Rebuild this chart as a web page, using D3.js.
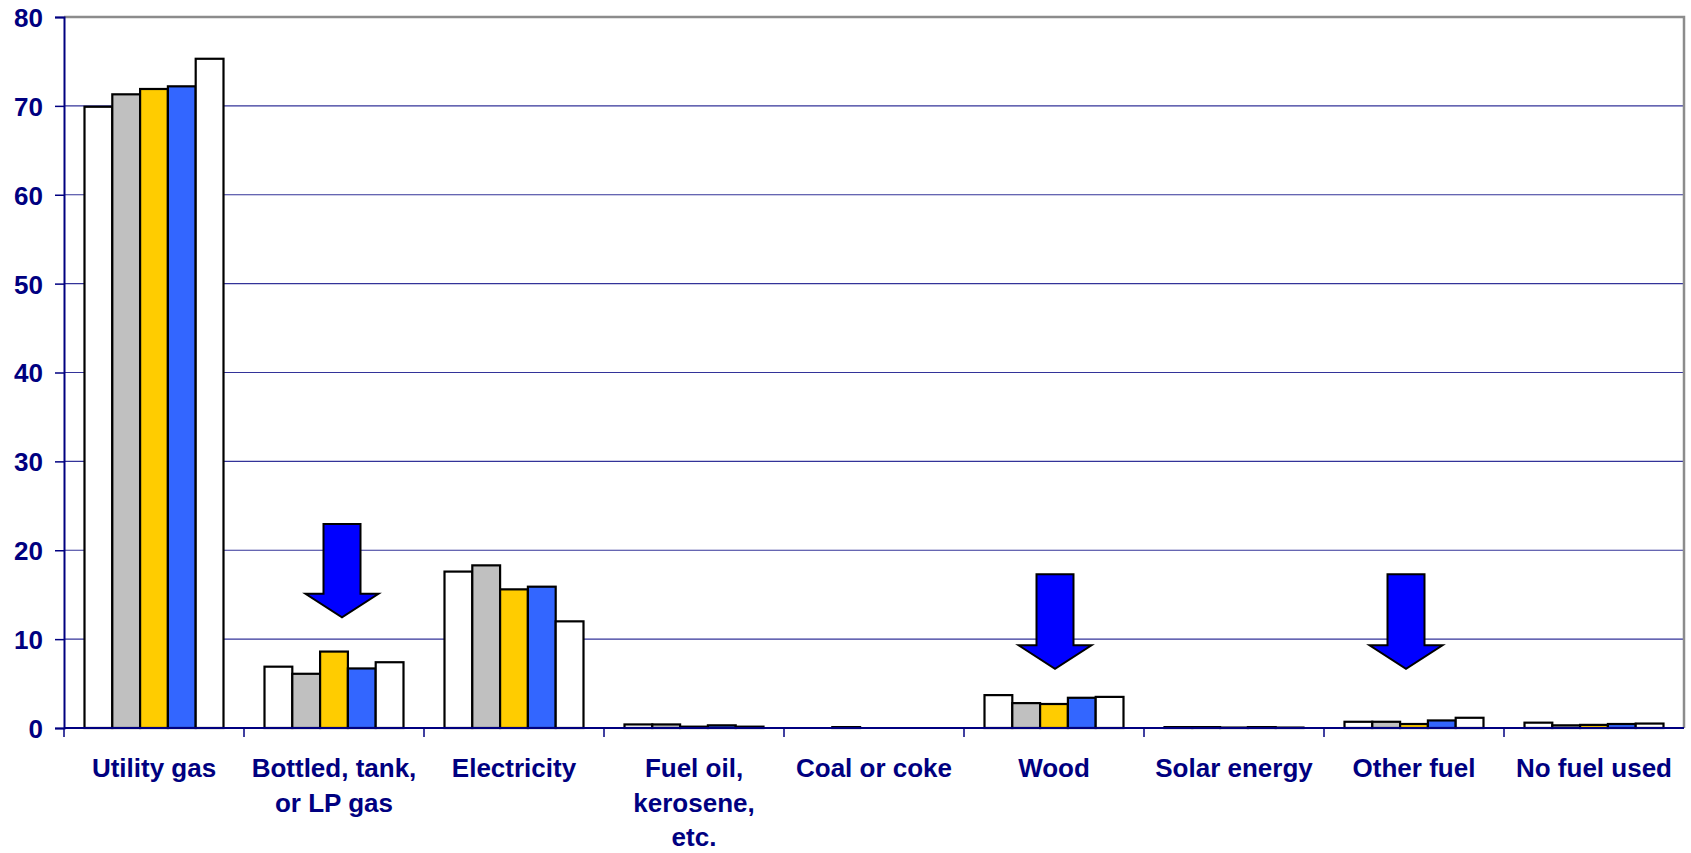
<!DOCTYPE html>
<html>
<head>
<meta charset="utf-8">
<script src="https://cdn.jsdelivr.net/npm/d3@7"></script>
<style>
  body { margin: 0; background: #fff; }
  text { font-family: "Liberation Sans", Arial, sans-serif; font-weight: bold; fill: #000080; }
</style>
</head>
<body>
<div id="chart"></div>
<script>
// data
const categories = ["Utility gas", "Bottled, tank,\nor LP gas", "Electricity", "Fuel oil,\nkerosene,\netc.",
  "Coal or coke", "Wood", "Solar energy", "Other fuel", "No fuel used"];
const seriesNames = ["s1", "s2", "s3", "s4", "s5"];
const series1 = [69.9, 6.9, 17.6, 0.4, 0, 3.7, 0.1, 0.7, 0.6];
const series2 = [71.3, 6.1, 18.3, 0.4, 0.1, 2.8, 0.1, 0.7, 0.3];
const series3 = [71.9, 8.6, 15.6, 0.15, 0, 2.7, 0.05, 0.45, 0.35];
const series4 = [72.2, 6.7, 15.9, 0.3, 0, 3.4, 0.1, 0.85, 0.45];
const series5 = [75.3, 7.4, 12.0, 0.15, 0, 3.5, 0.05, 1.15, 0.5];
const yTicks = [0, 10, 20, 30, 40, 50, 60, 70, 80];
// arrow annotations: category, value at top of shaft, value at tip, nudge in px
const arrows = [
  { cat: 1, top: 22.95, tip: 12.45, dx: 8 },
  { cat: 5, top: 17.3, tip: 6.67, dx: 1 },
  { cat: 7, top: 17.3, tip: 6.67, dx: -8 }
];

const allSeries = [series1, series2, series3, series4, series5];
const colors = ["#ffffff", "#c0c0c0", "#ffcc00", "#3366ff", "#ffffff"];

const width = 1691, height = 853;
const plotLeft = 64, plotRight = 1684, plotTop = 17, plotBottom = 728;

const svg = d3.select("#chart").append("svg").attr("width", width).attr("height", height);

const x0 = d3.scaleBand().domain(d3.range(categories.length)).range([plotLeft, plotRight]);
const groupW = 139;
const x1 = d3.scaleBand().domain(seriesNames).range([0, groupW]);
const y = d3.scaleLinear().domain([0, 80]).range([plotBottom, plotTop]);

// gridlines
svg.append("g").selectAll("line")
  .data(yTicks.filter(t => t > 0 && t < 80))
  .enter().append("line")
  .attr("x1", plotLeft).attr("x2", plotRight)
  .attr("y1", d => y(d)).attr("y2", d => y(d))
  .attr("stroke", "#333399").attr("stroke-width", 1.2);

// plot border top/right
svg.append("path")
  .attr("d", `M${plotLeft},${y(80)}H${plotRight}V${plotBottom}`)
  .attr("fill", "none").attr("stroke", "#8c8c8c").attr("stroke-width", 2.5);

// bars
const pad = (x0.bandwidth() - groupW) / 2;
allSeries.forEach((vals, si) => {
  svg.append("g").selectAll("rect")
    .data(vals.map((v, i) => ({ v, i })).filter(d => d.v > 0))
    .enter().append("rect")
    .attr("x", d => x0(d.i) + pad + x1(seriesNames[si]))
    .attr("width", x1.bandwidth())
    .attr("y", d => y(d.v))
    .attr("height", d => plotBottom - y(d.v))
    .attr("fill", colors[si])
    .attr("stroke", "#000").attr("stroke-width", 2.2);
});

// axes
const yAxis = svg.append("g").attr("transform", `translate(${plotLeft},0)`)
  .call(d3.axisLeft(y).tickValues(yTicks).tickSize(9).tickPadding(12).tickFormat(d3.format("d")));
yAxis.select(".domain").attr("stroke", "#000080").attr("stroke-width", 2);
yAxis.selectAll(".tick line").attr("stroke", "#000080").attr("stroke-width", 1.5);
yAxis.selectAll(".tick text").attr("font-size", 26).attr("fill", "#000080")
  .attr("font-family", "Liberation Sans, Arial, sans-serif").attr("font-weight", "bold").attr("dy", "0.36em");

svg.append("line").attr("x1", plotLeft).attr("x2", plotRight).attr("y1", plotBottom).attr("y2", plotBottom)
  .attr("stroke", "#000080").attr("stroke-width", 2);
svg.append("g").selectAll("line")
  .data(d3.range(categories.length))
  .enter().append("line")
  .attr("x1", d => x0(d)).attr("x2", d => x0(d))
  .attr("y1", plotBottom).attr("y2", plotBottom + 9)
  .attr("stroke", "#000080").attr("stroke-width", 1.5);

// category labels
const labels = svg.append("g").selectAll("text")
  .data(categories)
  .enter().append("text")
  .attr("text-anchor", "middle")
  .attr("font-size", 26)
  .attr("y", 777);
labels.each(function (d, i) {
  const cx = x0(i) + x0.bandwidth() / 2;
  d.split("\n").forEach((line, li) => {
    d3.select(this).append("tspan").attr("x", cx).attr("y", 777 + li * 34.5).text(line);
  });
});

// block arrows
const shaftW = 37, headW = 73, headL = 23.5;
svg.append("g").selectAll("path")
  .data(arrows)
  .enter().append("path")
  .attr("d", a => {
    const cx = x0(a.cat) + x0.bandwidth() / 2 + a.dx;
    const t = y(a.top), tip = y(a.tip), hb = tip - headL;
    return `M${cx - shaftW / 2},${t}H${cx + shaftW / 2}V${hb}H${cx + headW / 2}L${cx},${tip}L${cx - headW / 2},${hb}H${cx - shaftW / 2}Z`;
  })
  .attr("fill", "#0000ff").attr("stroke", "#000").attr("stroke-width", 2);
</script>
</body>
</html>
